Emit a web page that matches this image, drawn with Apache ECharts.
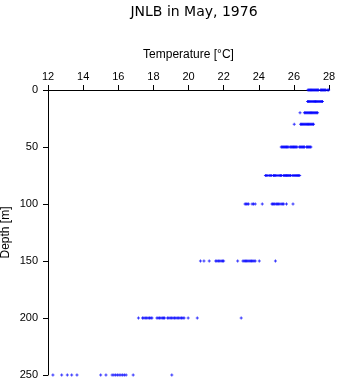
<!DOCTYPE html>
<html>
<head>
<meta charset="utf-8">
<script src="https://cdn.jsdelivr.net/npm/echarts@6/dist/echarts.min.js"></script>
<style>html,body{margin:0;padding:0;background:#fff}#c{width:341px;height:384px}</style>
</head>
<body>
<div id="c"></div>
<script>
const titleText = 'JNLB in May, 1976';
const xName = 'Temperature [°C]';
const yName = 'Depth [m]';
const depths = [0, 10, 20, 30, 50, 75, 100, 150, 200, 250];
const t0 = [26.80,26.85,26.90,26.95,27.00,27.05,27.10,27.15,27.20,27.25,27.30,27.35,27.40,27.52,27.57,27.62,27.67,27.72,27.77,27.82,27.93,27.98,28.02];
const t10 = [26.78,26.83,26.88,26.93,26.98,27.03,27.08,27.13,27.18,27.23,27.28,27.33,27.38,27.43,27.48,27.53,27.58,27.63];
const t20 = [26.35,26.60,26.65,26.70,26.75,26.80,26.85,26.90,26.95,27.00,27.05,27.10,27.15,27.20,27.25,27.30,27.35];
const t30 = [26.02,26.38,26.43,26.48,26.53,26.58,26.63,26.68,26.73,26.78,26.83,26.88,26.93,26.98,27.03,27.08,27.12];
const t50 = [25.28,25.33,25.38,25.43,25.48,25.53,25.58,25.63,25.68,25.78,25.83,25.88,25.93,25.98,26.03,26.08,26.13,26.18,26.31,26.36,26.41,26.46,26.51,26.56,26.60,26.72,26.77,26.82,26.87,26.92,26.97];
const t75 = [24.38,24.45,24.52,24.60,24.68,24.74,24.84,24.90,24.96,25.03,25.10,25.17,25.24,25.30,25.40,25.46,25.52,25.58,25.64,25.70,25.76,25.81,25.90,25.96,26.02,26.08,26.14,26.20,26.26,26.33];
const t100 = [23.22,23.28,23.34,23.42,23.62,23.70,23.80,24.20,24.75,24.80,24.86,24.92,25.00,25.06,25.12,25.20,25.28,25.36,25.42,25.58,25.95];
const t150 = [20.68,20.88,21.18,21.55,21.62,21.70,21.78,21.86,21.94,22.00,22.80,23.10,23.17,23.24,23.31,23.38,23.45,23.52,23.59,23.66,23.73,23.80,24.03,24.95];
const t200 = [17.15,17.38,17.46,17.54,17.62,17.70,17.78,17.86,17.92,18.20,18.27,18.35,18.43,18.51,18.58,18.64,18.80,18.88,18.96,19.04,19.12,19.20,19.28,19.36,19.44,19.52,19.60,19.68,19.75,19.98,20.50,23.00];
const t250 = [12.28,12.78,13.10,13.35,13.65,15.00,15.30,15.65,15.75,15.85,15.95,16.05,16.15,16.25,16.35,16.45,16.85,19.05];
const temps = [t0, t10, t20, t30, t50, t75, t100, t150, t200, t250];
const xTicks = {min: 12, max: 28, interval: 2};
const yTicks = {min: 0, max: 250, interval: 50};

const data = [];
depths.forEach((d, i) => temps[i].forEach(t => data.push([t, d])));

const font = '"Liberation Sans", Arial, sans-serif';
const chart = echarts.init(document.getElementById('c'), null, {renderer: 'canvas'});
chart.setOption({
  animation: false,
  backgroundColor: '#fff',
  title: {
    text: titleText, left: 189, top: 0, textAlign: 'center',
    textStyle: {fontFamily: '"DejaVu Sans", sans-serif', fontSize: 14, fontWeight: 'normal', color: '#000'}
  },
  grid: {left: 48, right: 12, top: 90, bottom: 9, containLabel: false, outerBoundsMode: 'none'},
  xAxis: {
    type: 'value', position: 'top', min: xTicks.min, max: xTicks.max, interval: xTicks.interval,
    name: xName, nameLocation: 'middle', nameGap: 29, nameMoveOverlap: false,
    nameTextStyle: {fontFamily: font, fontSize: 12, color: '#000'},
    axisLine: {show: true, onZero: false, lineStyle: {color: '#000', width: 1}},
    axisTick: {show: true, length: 5, lineStyle: {color: '#000'}},
    axisLabel: {fontFamily: font, fontSize: 11, color: '#000', margin: 8},
    splitLine: {show: false}
  },
  yAxis: {
    type: 'value', inverse: true, min: yTicks.min, max: yTicks.max, interval: yTicks.interval,
    name: yName, nameLocation: 'middle', nameGap: 36, nameRotate: 90, nameMoveOverlap: false,
    nameTextStyle: {fontFamily: font, fontSize: 12, color: '#000'},
    axisLine: {show: true, onZero: false, lineStyle: {color: '#000', width: 1}},
    axisTick: {show: true, length: 5, lineStyle: {color: '#000'}},
    axisLabel: {fontFamily: font, fontSize: 11, color: '#000', margin: 10},
    splitLine: {show: false}
  },
  series: [{
    type: 'scatter', data: data,
    symbol: 'path://M1,0H2V1H3V2H2V3H1V2H0V1H1Z', symbolSize: 3,
    itemStyle: {color: '#0000ff'}
  }]
});
</script>
</body>
</html>
